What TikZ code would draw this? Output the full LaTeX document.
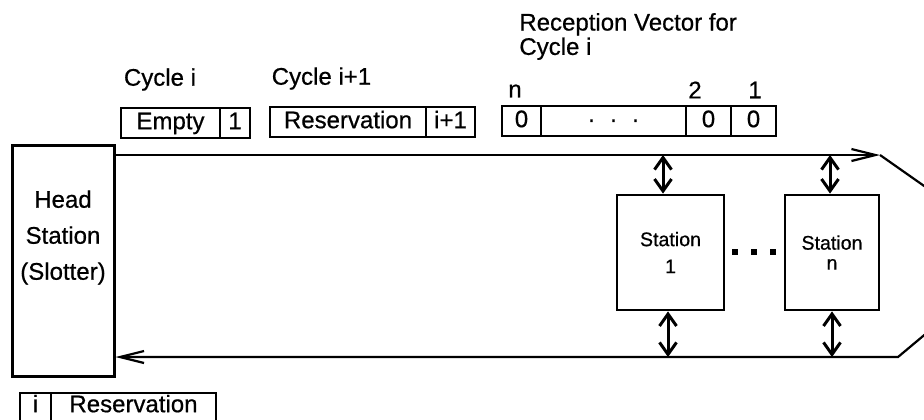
\documentclass[tikz,border=0pt]{standalone}
\usepackage{fontspec}
\setmainfont{Liberation Sans}[UprightFeatures={FakeBold=0.6}]
\usetikzlibrary{arrows.meta,positioning}

\begin{document}
\begin{tikzpicture}[x=5pt,y=-5pt,
        box/.style={draw,line width=1.4pt,outer sep=0pt,minimum height=15pt,
                    inner sep=1pt,text height=8.6pt,text depth=2.4pt,
                    font=\fontsize{12}{14}\selectfont},
        lowbox/.style={box,anchor=north west,text depth=8pt},
        lbl/.style={inner sep=0pt,font=\fontsize{12}{14}\selectfont},
        stn/.style={draw,line width=1.4pt,minimum height=57.5pt,align=center,
                    font=\fontsize{9.8}{12}\selectfont},
        bus/.style={line width=1.1pt,-{Straight Barb[length=12pt,width=6pt]}},
        link/.style={line width=1.5pt,
                     {Straight Barb[length=6pt,width=8.5pt]}-{Straight Barb[length=6pt,width=8.5pt]}}]
      \useasboundingbox (0,0) rectangle (92.4,41.9);
      \clip (0,0) rectangle (92.4,41.9);
      % cycle i
      \node[lbl] (cyci) at (16.0,7.95) {Cycle i};
      \node[box,minimum width=49.5pt] (empty) at (17.05,12.3) {Empty};
      \node[box,minimum width=15pt,right=0pt of empty] (emptyno) {1};
      % cycle i+1
      \node[lbl] (cycj) at (32.15,7.85) {Cycle i+1};
      \node[box,minimum width=78pt] (resv) at (34.8,12.2) {Reservation};
      \node[box,minimum width=24.5pt,right=0pt of resv] (resvno) {i+1};
      % reception vector
      \node[lbl,align=left,anchor=west,font=\fontsize{12}{11}\selectfont] (rvec)
            at (51.9,3.65) {Reception Vector for\\Cycle i};
      \node[box,minimum width=19.5pt] (vn) at (52.15,12.1) {0};
      \node[box,minimum width=72.5pt,right=0pt of vn] (vdots) {·\hspace{7pt}·\hspace{7pt}·};
      \node[box,minimum width=22.5pt,right=0pt of vdots] (vtwo) {0};
      \node[box,minimum width=22.5pt,right=0pt of vtwo] (vone) {0};
      \node[lbl] (vnlbl) at (51.5,9.1) {n};
      \node[lbl] (vtwolbl) at (69.5,9.0) {2};
      \node[lbl] (vonelbl) at (75.5,9.0) {1};
      % head station
      \node[draw,line width=1.5pt,minimum width=51pt,minimum height=115.5pt] (head) at (6.3,26.05) {};
      \node[lbl,align=center,font=\fontsize{12}{18}\selectfont] (headtxt)
            at (6.3,23.75) {Head\\Station\\(Slotter)};
      % stations
      \node[stn,minimum width=53.5pt] (st1) at (67.05,25.25) {Station\\[1.5pt]1};
      \node[stn,minimum width=47pt] (stn) at (83.2,25.25) {Station\\[-2pt]n};
      \fill (73.5,25.2) +(-1.3pt,-1.3pt) rectangle +(1.3pt,1.3pt);
      \fill (75.4,25.2) +(-1.3pt,-1.3pt) rectangle +(1.3pt,1.3pt);
      \fill (77.3,25.2) +(-1.3pt,-1.3pt) rectangle +(1.3pt,1.3pt);
      % bus
      \coordinate (ringT) at (88.0,15.5);
      \coordinate (ringE) at (102.1,25.4);
      \coordinate (ringB) at (89.8,35.7);
      \draw[bus] (head.east |- ringT) -- (ringT);
      \draw[bus] (ringT) -- (ringE) -- (ringB) -- (head.east |- ringB);
      % taps
      \coordinate (st1t) at ([xshift=-3.75pt]st1.north);
      \coordinate (st1b) at ([xshift=-1.25pt]st1.south);
      \coordinate (stnt) at ([xshift=-1pt]stn.north);
      \coordinate (stnb) at (stn.south);
      \draw[link] (st1t |- ringT) -- (st1t);
      \draw[link] (st1b) -- (st1b |- ringB);
      \draw[link] (stnt |- ringT) -- (stnt);
      \draw[link] (stnb) -- (stnb |- ringB);
      % slot format
      \node[lowbox,minimum width=15.5pt] (slotno) at (2.0,39.3) {i};
      \node[lowbox,minimum width=82.5pt,anchor=west,right=0pt of slotno] (slotres) {Reservation};
    \end{tikzpicture}
\end{document}
